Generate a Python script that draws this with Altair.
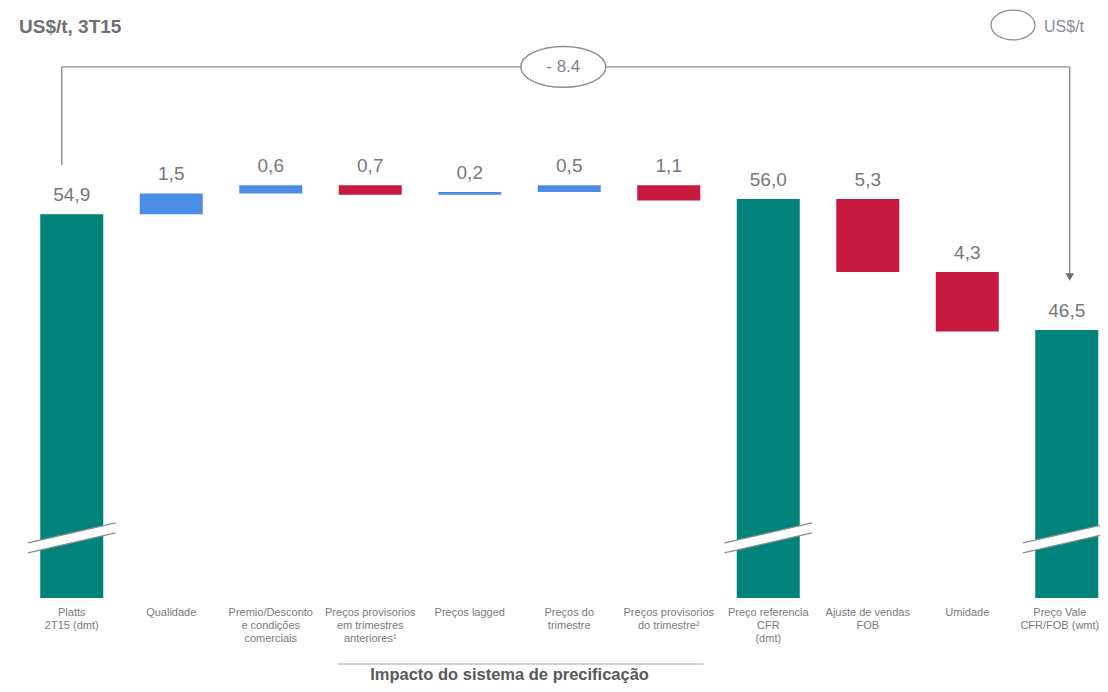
import altair as alt
import pandas as pd

# ---------------- data ----------------
categories = [
    "Platts\n2T15 (dmt)",
    "Qualidade",
    "Premio/Desconto\ne condições\ncomerciais",
    "Preços provisorios\nem trimestres\nanteriores¹",
    "Preços lagged",
    "Preços do\ntrimestre",
    "Preços provisorios\ndo trimestre²",
    "Preço referencia\nCFR\n(dmt)",
    "Ajuste de vendas\nFOB",
    "Umidade",
    "Preço Vale\nCFR/FOB (wmt)",
]
values = [54.9, 1.5, 0.6, -0.7, 0.2, 0.5, -1.1, 56.0, -5.3, -4.3, 46.5]
kinds = ["total", "delta", "delta", "delta", "delta", "delta", "delta",
         "total", "delta", "delta", "total"]
value_labels = ["54,9", "1,5", "0,6", "0,7", "0,2", "0,5", "1,1",
                "56,0", "5,3", "4,3", "46,5"]
change_label = ["- 8.4"]
title_text = ["US$/t, 3T15"]
legend_text = ["US$/t"]
group_text = ["Impacto do sistema de precificação"]

# ---------------- scales / annotation constants ----------------
Y_MIN, Y_MAX = 27.07, 69.85          # truncated value axis
X_DOM = [0, 10.834]
BREAK_Y = (30.70, 32.15)             # axis-break band (left, right) on total bars
BREAK_OFF = 0.363
BRACKET_Y = 65.58
BRACKET_LEFT = (0.40, 58.47)
BRACKET_RIGHT_X = 10.53
ARROW_Y = 50.35
ELLIPSE_X = 5.44
EDGE_LABEL_SHIFT = 0.07              # keep the last category label inside the page

TEAL, BLUE, RED = "#00837A", "#4A8CE6", "#C81A40"
GRAY_TXT = "#76787b"
LINE_GRAY = "#8c8c8c"

rows = []
running = 0.0
n = len(categories)
for i, (c, v, k, lab) in enumerate(zip(categories, values, kinds, value_labels)):
    if k == "total":
        start, end = Y_MIN, v
        running = v
        col = "total"
    else:
        start, end = running, running + v
        running = end
        col = "pos" if v > 0 else "neg"
    rows.append(dict(cat=c, pos=i + 0.5,
                     lpos=i + 0.5 - (EDGE_LABEL_SHIFT if i == n - 1 else 0.0),
                     start=start, end=end,
                     top=max(start, end) if k == "delta" else v,
                     kind=col, label=lab))
df = pd.DataFrame(rows)

xs = alt.Scale(domain=X_DOM, nice=False, zero=False, padding=0)
ys = alt.Scale(domain=[Y_MIN, Y_MAX], nice=False, zero=False, padding=0)

bars = alt.Chart(df).mark_bar(size=63).encode(
    x=alt.X("pos:Q", scale=xs,
            axis=alt.Axis(values=list(range(11)), labels=False, tickSize=5,
                          domainColor="#a6a6a6", tickColor="#a6a6a6",
                          grid=False, title=None)),
    y=alt.Y("start:Q", scale=ys, axis=None),
    y2="end:Q",
    color=alt.Color("kind:N", scale=alt.Scale(domain=["total", "pos", "neg"],
                                              range=[TEAL, BLUE, RED]),
                    legend=None),
)

# axis-break marks on total bars
tot = df[df["kind"] == "total"].copy()
brk = pd.DataFrame({
    "x1": tot["pos"] - 0.44, "x2": tot["pos"] + 0.44,
    "y1": BREAK_Y[0], "y2": BREAK_Y[1],
})
brk["y1u"] = brk["y1"] + BREAK_OFF
brk["y2u"] = brk["y2"] + BREAK_OFF
brk["y1l"] = brk["y1"] - BREAK_OFF
brk["y2l"] = brk["y2"] - BREAK_OFF

brk_white = alt.Chart(brk).mark_rule(color="white", strokeWidth=9.5).encode(
    x=alt.X("x1:Q", scale=xs, axis=None), x2="x2:Q",
    y=alt.Y("y1:Q", scale=ys, axis=None), y2="y2:Q")
brk_up = alt.Chart(brk).mark_rule(color=LINE_GRAY, strokeWidth=1.3).encode(
    x=alt.X("x1:Q", scale=xs, axis=None), x2="x2:Q",
    y=alt.Y("y1u:Q", scale=ys, axis=None), y2="y2u:Q")
brk_lo = alt.Chart(brk).mark_rule(color=LINE_GRAY, strokeWidth=1.3).encode(
    x=alt.X("x1:Q", scale=xs, axis=None), x2="x2:Q",
    y=alt.Y("y1l:Q", scale=ys, axis=None), y2="y2l:Q")

vlabels = alt.Chart(df).mark_text(fontSize=19, color=GRAY_TXT, baseline="alphabetic",
                                  dy=-13, font="Liberation Sans").encode(
    x=alt.X("pos:Q", scale=xs, axis=None),
    y=alt.Y("top:Q", scale=ys, axis=None),
    text="label:N")

xlabels = alt.Chart(df).mark_text(fontSize=11, color="#7a7a7a", baseline="top",
                                  lineBreak="\n", lineHeight=13,
                                  font="Liberation Sans").encode(
    x=alt.X("lpos:Q", scale=xs, axis=None),
    y=alt.value(599),
    text="cat:N")

# bracket with change
br_lines = pd.DataFrame({
    "x1": [BRACKET_LEFT[0], BRACKET_LEFT[0], BRACKET_RIGHT_X],
    "x2": [BRACKET_LEFT[0], BRACKET_RIGHT_X, BRACKET_RIGHT_X],
    "y1": [BRACKET_LEFT[1], BRACKET_Y, BRACKET_Y],
    "y2": [BRACKET_Y, BRACKET_Y, ARROW_Y],
})
bracket = alt.Chart(br_lines).mark_rule(color=LINE_GRAY, strokeWidth=1.4).encode(
    x=alt.X("x1:Q", scale=xs, axis=None), x2="x2:Q",
    y=alt.Y("y1:Q", scale=ys, axis=None), y2="y2:Q")
arrow = alt.Chart(pd.DataFrame({"x": [BRACKET_RIGHT_X], "y": [ARROW_Y]})).mark_point(
    shape="triangle-down", size=75, filled=True, color="#6e6e6e", opacity=1).encode(
    x=alt.X("x:Q", scale=xs, axis=None), y=alt.Y("y:Q", scale=ys, axis=None))

ellipse_path = "M -1 0 A 1 0.48 0 1 1 1 0 A 1 0.48 0 1 1 -1 0 Z"
ell_df = pd.DataFrame({"x": [ELLIPSE_X], "y": [BRACKET_Y], "t": change_label})
ellipse = alt.Chart(ell_df).mark_point(
    shape=ellipse_path, size=7225, filled=True, fill="white", stroke=LINE_GRAY,
    strokeWidth=1.4, opacity=1).encode(
    x=alt.X("x:Q", scale=xs, axis=None), y=alt.Y("y:Q", scale=ys, axis=None))
ell_text = alt.Chart(ell_df).mark_text(fontSize=17, color="#7d8290",
                                       baseline="middle", font="Liberation Sans").encode(
    x=alt.X("x:Q", scale=xs, axis=None), y=alt.Y("y:Q", scale=ys, axis=None),
    text="t:N")

# title & legend (pixel positions)
title = alt.Chart(pd.DataFrame({"t": title_text})).mark_text(
    fontSize=19, fontWeight="bold", color="#6f7073", align="left",
    baseline="alphabetic", font="Liberation Sans").encode(
    x=alt.value(-3), y=alt.value(25), text="t:N")
leg_ell = alt.Chart(pd.DataFrame({"t": legend_text})).mark_point(
    shape="M -1 0 A 1 0.68 0 1 1 1 0 A 1 0.68 0 1 1 -1 0 Z", size=1936,
    filled=False, stroke=LINE_GRAY, strokeWidth=1.3, opacity=1).encode(
    x=alt.value(991), y=alt.value(17))
leg_txt = alt.Chart(pd.DataFrame({"t": legend_text})).mark_text(
    fontSize=16, color="#8a8c9a", align="left", baseline="alphabetic",
    font="Liberation Sans").encode(x=alt.value(1022), y=alt.value(24), text="t:N")

# group bracket under the axis
grp_line = alt.Chart(pd.DataFrame({"a": [3.17], "b": [6.85]})).mark_rule(
    color="#a6a6a6", strokeWidth=1).encode(
    x=alt.X("a:Q", scale=xs, axis=None), x2="b:Q", y=alt.value(656))
grp_txt = alt.Chart(pd.DataFrame({"x": [4.9], "t": group_text})).mark_text(
    fontSize=16.5, fontWeight="bold", color="#595959", baseline="alphabetic",
    font="Liberation Sans").encode(
    x=alt.X("x:Q", scale=xs, axis=None), y=alt.value(672), text="t:N")

chart = alt.layer(
    bars, brk_white, brk_up, brk_lo, vlabels, xlabels, bracket, arrow,
    ellipse, ell_text, title, leg_ell, leg_txt, grp_line, grp_txt
).properties(
    width=1078, height=590,
    padding={"left": 14, "top": 0, "right": 0, "bottom": 86},
    autosize=alt.AutoSizeParams(type="none"),
).configure_view(stroke=None)

chart.save("out.html", embed_options={"renderer": "svg", "actions": False})
